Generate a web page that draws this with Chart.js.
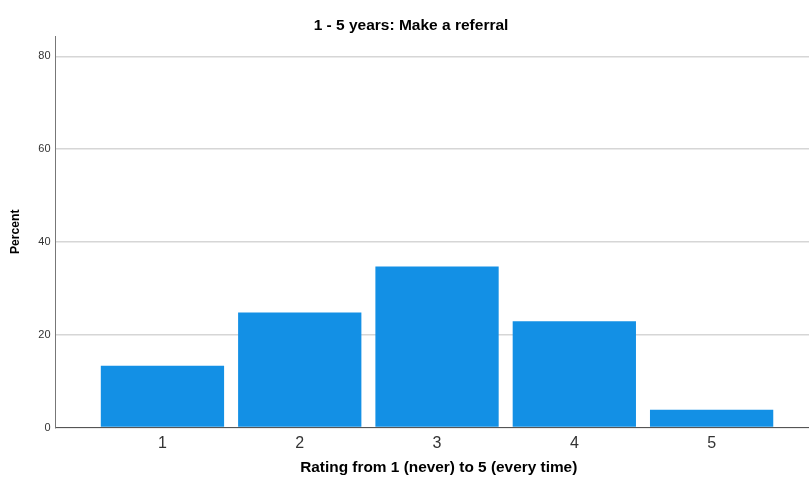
<!DOCTYPE html>
<html>
<head>
<meta charset="utf-8">
<title>1 - 5 years: Make a referral</title>
<script src="https://cdn.jsdelivr.net/npm/chart.js@4/dist/chart.umd.min.js"></script>
<style>
  html, body { margin: 0; padding: 0; background: #ffffff; overflow: hidden; }
  #wrap { width: 822px; height: 485px; }
</style>
</head>
<body>
<div id="wrap"><canvas id="chart" width="822" height="485"></canvas></div>
<script>
// Share of respondents choosing each rating
const ratings = [1, 2, 3, 4, 5];
const percents = [13.3, 24.8, 34.7, 22.9, 3.8];
const yTickValues = [0, 20, 40, 60, 80];
const chartTitle = '1 - 5 years: Make a referral';
const xTitle = 'Rating from 1 (never) to 5 (every time)';
const yTitle = 'Percent';

const FONT = '"Liberation Sans", Arial, sans-serif';

new Chart(document.getElementById('chart'), {
  type: 'bar',
  data: {
    datasets: [{
      data: ratings.map((r, i) => ({ x: r, y: percents[i] })),
      backgroundColor: '#1390e5',
      borderWidth: 0,
      categoryPercentage: 1,
      barPercentage: 0.898
    }]
  },
  options: {
    responsive: false,
    animation: false,
    layout: { padding: 0 },
    plugins: {
      legend: { display: false },
      tooltip: { enabled: false },
      title: {
        display: true,
        text: chartTitle,
        color: '#000000',
        font: { family: FONT, size: 15.5, weight: 'bold' },
        padding: { top: 16.7, bottom: 0.7 }
      }
    },
    scales: {
      x: {
        type: 'linear',
        offset: false,
        min: 0.221,
        max: 5.804,
        grid: { display: false, drawTicks: false },
        border: { display: true, color: '#555555', width: 1 },
        afterBuildTicks: (axis) => { axis.ticks = ratings.map(v => ({ value: v })); },
        afterFit: (axis) => { axis.height = 57.5; },
        ticks: {
          color: '#333333',
          font: { family: FONT, size: 16 },
          padding: 6,
          maxRotation: 0,
          autoSkip: false
        },
        title: {
          display: true,
          text: xTitle,
          color: '#000000',
          font: { family: FONT, size: 15.4, weight: 'bold' },
          padding: { top: 0, bottom: 8 }
        }
      },
      y: {
        min: 0,
        max: 84.4,
        grid: { color: '#d6d6d6', lineWidth: 1.5, drawTicks: false },
        border: { display: true, color: '#777777', width: 1 },
        afterBuildTicks: (axis) => { axis.ticks = yTickValues.map(v => ({ value: v })); },
        afterFit: (axis) => { axis.width = 55.5; },
        ticks: {
          color: '#333333',
          font: { family: FONT, size: 11 },
          padding: 5
        },
        title: {
          display: true,
          text: yTitle,
          color: '#000000',
          font: { family: FONT, size: 12.2, weight: 'bold' },
          padding: { top: 8.8, bottom: 0 }
        }
      }
    }
  }
});
</script>
</body>
</html>
